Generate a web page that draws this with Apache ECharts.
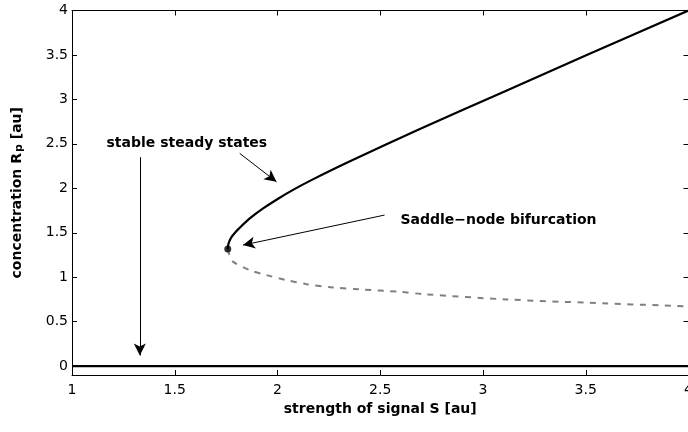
<!DOCTYPE html>
<html>
<head>
<meta charset="utf-8">
<script src="https://cdn.jsdelivr.net/npm/echarts@6/dist/echarts.min.js"></script>
<style>
  html, body { margin: 0; padding: 0; background: #fff; }
  #chart-container { width: 688px; height: 432px; }
</style>
</head>
<body>
<div id="chart-container"></div>
<script>
// tick labels
var xTicks = [1, 1.5, 2, 2.5, 3, 3.5, 4];
var yTicks = [0, 0.5, 1, 1.5, 2, 2.5, 3, 3.5, 4];

// stable (upper) branch: signal S vs concentration Rp
var upperS = [1.758, 1.760, 1.765, 1.776, 1.793, 1.813, 1.865, 1.930, 2.005, 2.080, 2.165, 2.345, 2.690, 3.105, 3.505, 4.0];
var upperR = [1.316, 1.360, 1.400, 1.450, 1.500, 1.549, 1.661, 1.774, 1.886, 1.988, 2.092, 2.295, 2.664, 3.090, 3.500, 4.0];

// unstable (lower) branch
var lowerS = [1.758, 1.766, 1.785, 1.865, 1.946, 2.043, 2.141, 2.270, 2.400, 2.595, 2.708, 3.114, 3.519, 4.0];
var lowerR = [1.316, 1.250, 1.173, 1.080, 1.024, 0.967, 0.922, 0.885, 0.863, 0.836, 0.810, 0.750, 0.712, 0.672];

// trivial steady state Rp = 0
var zeroS = [1, 4];
var zeroR = [0, 0];

// saddle-node point
var foldPoint = [1.758, 1.316];

// annotations (data coordinates)
var stableText = 'stable steady states';
var stableTextAt = [1.168, 2.50];
var saddleText = 'Saddle\u2212node bifurcation';
var saddleTextAt = [2.598, 1.642];
var arrowStableZero = [[1.33, 2.35], [1.33, 0.12]];
var arrowStableUpper = [[1.816, 2.393], [1.995, 2.073]];
var arrowSaddle = [[2.521, 1.699], [1.832, 1.361]];

var FONT = 'DejaVu Sans, sans-serif';

function pairs(xs, ys) {
  return xs.map(function (x, i) { return [x, ys[i]]; });
}

var dom = document.getElementById('chart-container');
var myChart = echarts.init(dom, null, { renderer: 'canvas' });

var tickStyle = { show: true, inside: true, length: 5, lineStyle: { color: '#000', width: 1 } };
var lineStyleAxis = { show: true, onZero: false, lineStyle: { color: '#000', width: 1 } };

var option = {
  animation: false,
  backgroundColor: '#fff',
  grid: { left: 72, width: 616.5, top: 10.5, bottom: 57, containLabel: false, outerBoundsMode: 'none' },
  xAxis: [
    {
      type: 'value', min: 1, max: 4, interval: 0.5, position: 'bottom',
      axisLine: lineStyleAxis, axisTick: tickStyle,
      axisLabel: { color: '#000', fontSize: 14, fontFamily: FONT, margin: 8 },
      splitLine: { show: false },
      name: 'strength of signal S [au]', nameLocation: 'middle', nameGap: 20,
      nameTextStyle: { color: '#000', fontSize: 14, fontWeight: 'bold', fontFamily: FONT }
    },
    {
      type: 'value', min: 1, max: 4, interval: 0.5, position: 'top',
      axisLine: lineStyleAxis, axisTick: tickStyle,
      axisLabel: { show: false }, splitLine: { show: false }
    }
  ],
  yAxis: [
    {
      type: 'value', min: -0.1, max: 4, position: 'left',
      axisLine: lineStyleAxis,
      axisTick: Object.assign({ customValues: yTicks }, tickStyle),
      axisLabel: { customValues: yTicks, color: '#000', fontSize: 14, fontFamily: FONT, margin: 4 },
      splitLine: { show: false },
      name: '{a|concentration R}{b|p}{a| [au]}', nameLocation: 'middle', nameGap: 47,
      nameTextStyle: {
        color: '#000', fontFamily: FONT,
        rich: {
          a: { fontSize: 14, fontWeight: 'bold', fontFamily: FONT, color: '#000', lineHeight: 16, verticalAlign: 'middle' },
          b: { fontSize: 11, fontWeight: 'bold', fontFamily: FONT, color: '#000', lineHeight: 11, padding: [10, 0, 0, 1], verticalAlign: 'bottom' }
        }
      }
    },
    {
      type: 'value', min: -0.1, max: 4, position: 'right',
      axisLine: lineStyleAxis,
      axisTick: Object.assign({ customValues: yTicks }, tickStyle),
      axisLabel: { show: false }, splitLine: { show: false }
    }
  ],
  series: [
    {
      name: 'zero', type: 'line', data: pairs(zeroS, zeroR), showSymbol: false, silent: true,
      lineStyle: { color: '#000', width: 2.4 }
    },
    {
      name: 'unstable', type: 'line', data: pairs(lowerS, lowerR), showSymbol: false, silent: true,
      smooth: 0.3,
      lineStyle: { color: '#808080', width: 2, type: [6, 6.5] }
    },
    {
      name: 'stable', type: 'line', data: pairs(upperS, upperR), showSymbol: false, silent: true,
      smooth: 0.3,
      lineStyle: { color: '#000', width: 2.2 },
      markLine: {
        silent: true, symbol: ['none', 'arrow'], symbolSize: [9, 12],
        label: { show: false },
        lineStyle: { color: '#000', width: 1, type: 'solid' },
        data: [
          [{ coord: arrowStableZero[0] }, { coord: arrowStableZero[1] }],
          [{ coord: arrowStableUpper[0] }, { coord: arrowStableUpper[1] }],
          [{ coord: arrowSaddle[0] }, { coord: arrowSaddle[1] }]
        ]
      },
      markPoint: {
        silent: true, symbol: 'circle', symbolSize: 0,
        label: { show: true, position: 'right', distance: 0, color: '#000', fontSize: 14, fontWeight: 'bold', fontFamily: FONT },
        data: [
          { coord: stableTextAt, label: { formatter: stableText } },
          { coord: saddleTextAt, label: { formatter: saddleText } }
        ]
      }
    },
    {
      name: 'fold', type: 'scatter', data: [foldPoint], symbol: 'circle', symbolSize: 7, silent: true,
      z: 10, itemStyle: { color: '#000' }
    }
  ]
};

myChart.setOption(option);
window.addEventListener('resize', myChart.resize);
</script>
</body>
</html>
